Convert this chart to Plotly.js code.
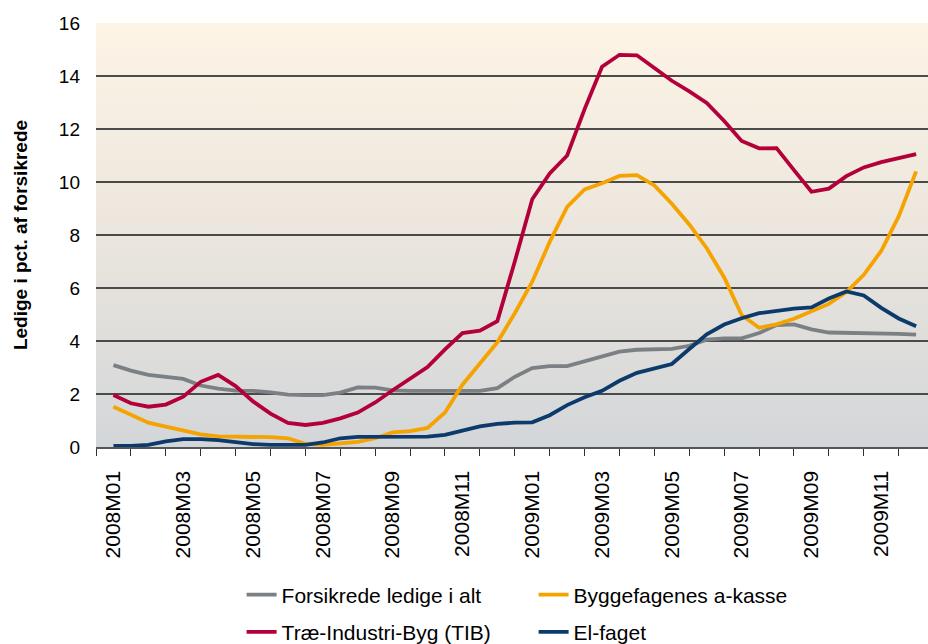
<!DOCTYPE html>
<html>
<head>
<meta charset="utf-8">
<script src="https://cdn.plot.ly/plotly-3.0.1.min.js"></script>
<style>
  body { margin: 0; background: #fff; }
  #chart { width: 928px; height: 644px; }
</style>
</head>
<body>
<div id="chart"></div>
<script>
// month labels on the axis (every second month shown)
const months = ['2008M01', '2008M02', '2008M03', '2008M04', '2008M05', '2008M06', '2008M07', '2008M08',
  '2008M09', '2008M10', '2008M11', '2008M12', '2009M01', '2009M02', '2009M03', '2009M04',
  '2009M05', '2009M06', '2009M07', '2009M08', '2009M09', '2009M10', '2009M11', '2009M12']

// observations twice a month, x = month index (0 = 2008M01)
const xHalf = Array.from({ length: 47 }, (_, i) => i / 2)

const forsikrede = [3.09, 2.88, 2.72, 2.63, 2.57, 2.32, 2.20, 2.13, 2.12, 2.06, 1.98, 1.96, 1.96, 2.05, 2.25, 2.24,
  2.14, 2.12, 2.12, 2.12, 2.12, 2.12, 2.22, 2.65, 2.98, 3.05, 3.05, 3.24, 3.44, 3.60, 3.67, 3.70,
  3.70, 3.82, 4.05, 4.10, 4.10, 4.30, 4.60, 4.63, 4.44, 4.32, 4.31, 4.31, 4.31, 4.27, 4.24]

const byggefag = [1.52, 1.21, 0.92, 0.77, 0.64, 0.48, 0.40, 0.39, 0.39, 0.37, 0.33, 0.12, 0.08, 0.13, 0.19, 0.33,
  0.55, 0.60, 0.72, 1.30, 2.35, 3.15, 3.95, 5.05, 6.24, 7.74, 9.06, 9.72, 9.95, 10.23, 10.26, 9.87,
  9.18, 8.40, 7.50, 6.40, 4.98, 4.50, 4.63, 4.84, 5.12, 5.40, 5.85, 6.50, 7.40, 8.70, 10.40]

const tib = [1.96, 1.65, 1.52, 1.60, 1.90, 2.46, 2.72, 2.30, 1.72, 1.26, 0.91, 0.83, 0.91, 1.08, 1.30, 1.68,
  2.14, 2.59, 3.02, 3.68, 4.30, 4.39, 4.75, 7.00, 9.35, 10.32, 11.00, 12.75, 14.35, 14.80, 14.78, 14.30,
  13.82, 13.42, 12.98, 12.30, 11.55, 11.27, 11.28, 10.45, 9.63, 9.75, 10.22, 10.55, 10.75, 10.90, 11.05]

const elfaget = [0.04, 0.04, 0.08, 0.21, 0.30, 0.30, 0.26, 0.18, 0.11, 0.08, 0.08, 0.08, 0.17, 0.33, 0.38, 0.39,
  0.39, 0.39, 0.39, 0.46, 0.63, 0.78, 0.87, 0.92, 0.93, 1.20, 1.58, 1.88, 2.12, 2.50, 2.80, 2.96,
  3.13, 3.70, 4.25, 4.62, 4.86, 5.05, 5.15, 5.22, 5.27, 5.60, 5.87, 5.72, 5.25, 4.85, 4.56]

const font = 'Liberation Sans, Arial, sans-serif'

const bgSvg = '<svg xmlns="http://www.w3.org/2000/svg" width="10" height="100" preserveAspectRatio="none">' +
  '<defs><linearGradient id="g" x1="0" y1="0" x2="0" y2="1">' +
  '<stop offset="0" stop-color="#fdf4e5"/><stop offset="0.45" stop-color="#ede7de"/>' +
  '<stop offset="1" stop-color="#d3d6d9"/></linearGradient></defs>' +
  '<rect width="10" height="100" fill="url(#g)"/></svg>'

const line = (name, y, color, legend) => ({
  name: name,
  x: xHalf,
  y: y,
  type: 'scatter',
  mode: 'lines',
  line: { color: color, width: 3.8 },
  legend: legend,
})

const data = [
  line('Forsikrede ledige i alt', forsikrede, '#7b8084', 'legend'),
  line('Byggefagenes a-kasse', byggefag, '#f5a300', 'legend'),
  line('Træ-Industri-Byg (TIB)', tib, '#b4003a', 'legend2'),
  line('El-faget', elfaget, '#0c3a6b', 'legend2'),
]

const tickIdx = months.map((_, i) => i).filter(i => i % 2 === 0)

const legendBase = {
  orientation: 'h',
  xref: 'paper', yref: 'paper',
  x: 0.175, xanchor: 'left', yanchor: 'middle',
  entrywidth: 247, entrywidthmode: 'pixels',
  bgcolor: 'rgba(0,0,0,0)',
  font: { family: font, size: 21, color: '#000' },
}

const layout = {
  width: 928,
  height: 644,
  margin: { l: 96, r: 0, t: 23, b: 197, autoexpand: false },
  paper_bgcolor: '#fff',
  plot_bgcolor: 'rgba(0,0,0,0)',
  showlegend: true,
  font: { family: font, size: 19, color: '#000' },
  images: [{
    source: 'data:image/svg+xml;utf8,' + encodeURIComponent(bgSvg),
    xref: 'paper', yref: 'paper',
    x: 0, y: 1, sizex: 1, sizey: 1,
    xanchor: 'left', yanchor: 'top',
    sizing: 'stretch', layer: 'below',
  }],
  xaxis: {
    range: [-0.5, 23.34],
    tickmode: 'array',
    tickvals: tickIdx,
    ticktext: tickIdx.map(i => months[i]),
    tickangle: -90,
    ticks: '',
    ticklabelstandoff: 14,
    tickfont: { family: font, size: 21 },
    showgrid: false,
    zeroline: false,
    showline: true,
    linecolor: '#555',
    linewidth: 1.5,
    minor: {
      tickmode: 'array',
      tickvals: months.map((_, i) => i - 0.5).concat([23.5]),
      ticks: 'outside',
      ticklen: 7,
      tickwidth: 1,
      tickcolor: '#333',
      showgrid: false,
    },
  },
  yaxis: {
    range: [0, 16],
    dtick: 2,
    tick0: 0,
    ticks: '',
    ticklabelstandoff: 15,
    tickfont: { family: font, size: 19 },
    showgrid: true,
    gridcolor: '#4a4a4a',
    gridwidth: 1.5,
    zeroline: false,
    showline: false,
    title: {
      text: 'Ledige i pct. af forsikrede',
      font: { family: font, size: 19, weight: 'bold' },
      standoff: 26,
    },
  },
  legend: Object.assign({}, legendBase, { y: -0.349 }),
  legend2: Object.assign({}, legendBase, { y: -0.437 }),
}

Plotly.newPlot('chart', data, layout, { displayModeBar: false, staticPlot: true })
</script>
</body>
</html>
